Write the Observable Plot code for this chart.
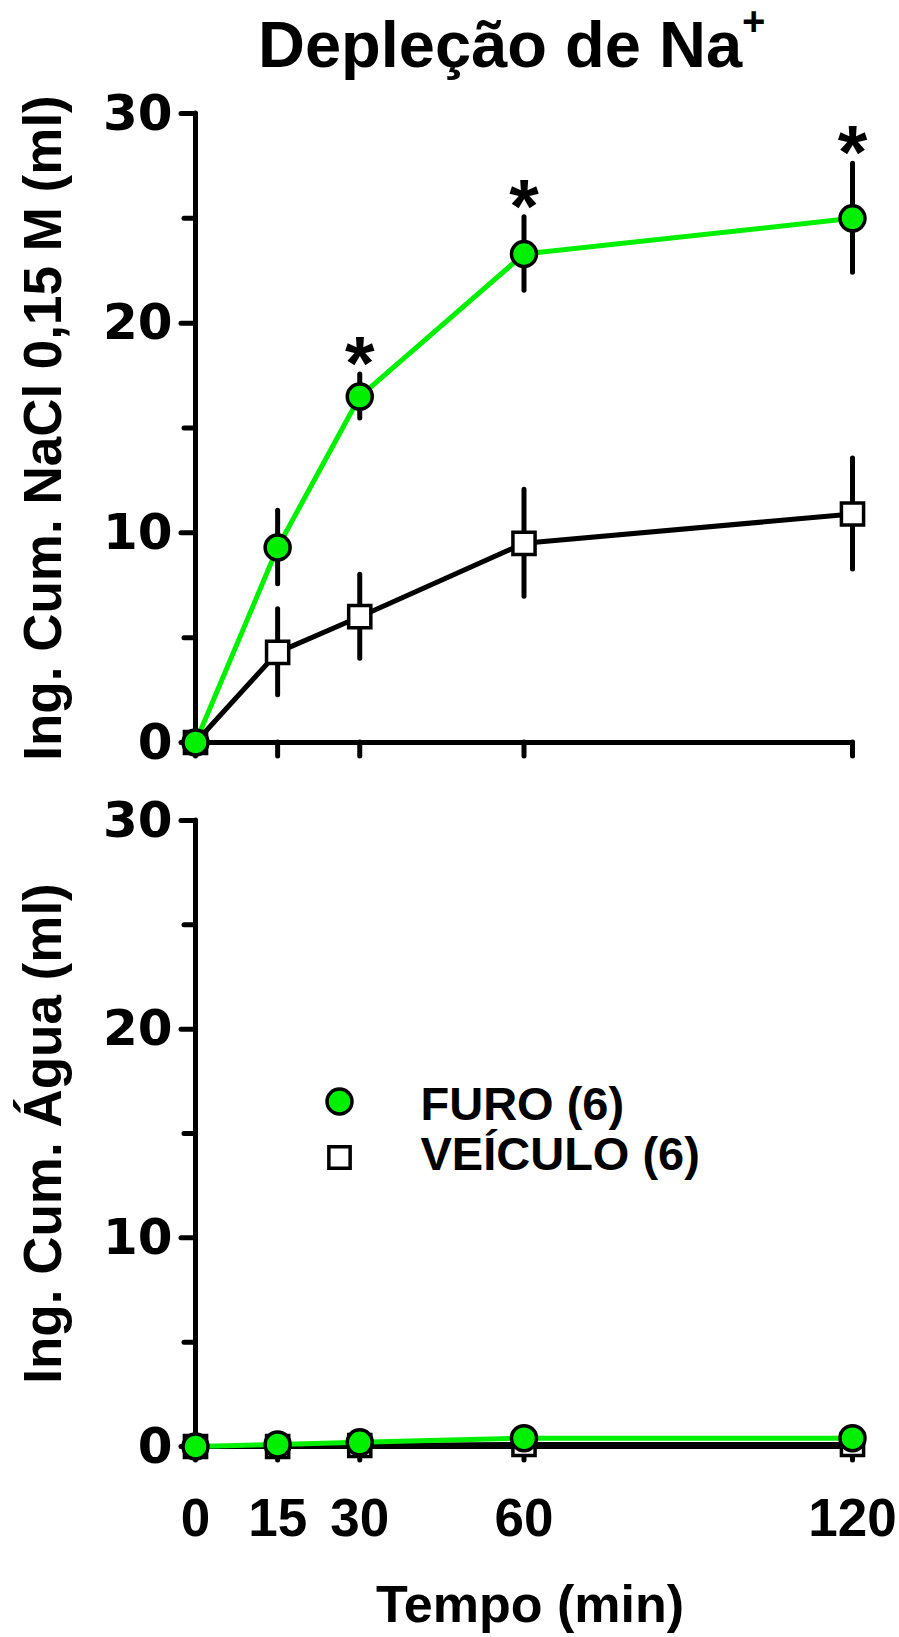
<!DOCTYPE html>
<html>
<head>
<meta charset="utf-8">
<script src="https://cdn.jsdelivr.net/npm/d3@7"></script>
<script src="https://cdn.jsdelivr.net/npm/@observablehq/plot@0.6"></script>
<style>
  html, body { margin: 0; padding: 0; background: #fff; }
  #wrap { position: relative; width: 899px; height: 1637px; overflow: hidden; }
  #title { position: absolute; left: 258px; top: 12px; font-family: "Liberation Sans", Arial, sans-serif;
           font-weight: bold; font-size: 65px; line-height: 65px; white-space: nowrap; color: #000; }
  #title .sup { font-size: 40px; position: relative; top: -32px; }
  .panel { position: absolute; left: 0; }
  .panel svg { overflow: visible; }
</style>
</head>
<body>
<div id="wrap">
  <div id="title"></div>
  <div id="p1" class="panel" style="top:0px"></div>
  <div id="p2" class="panel" style="top:780px"></div>
</div>
<script>
// ---- data ----
const times = [0, 15, 30, 60, 120];
const furoNaCl = [0, 9.3, 16.5, 23.3, 25.0];
const furoNaClErr = [0, 1.75, 1.05, 1.75, 2.6];
const veicNaCl = [0, 4.3, 6.0, 9.5, 10.9];
const veicNaClErr = [0, 2.05, 2.0, 2.55, 2.65];
const sigNaCl = [false, false, true, true, true];
const furoAgua = [0, 0.1, 0.2, 0.4, 0.4];
const furoAguaErr = [0, 0.15, 0.15, 0.25, 0.25];
const veicAgua = [0, 0, 0.05, 0.1, 0.1];
const veicAguaErr = [0, 0.1, 0.1, 0.15, 0.15];
const yMajorTicks = [0, 10, 20, 30];
const yMinorTicks = [5, 15, 25];
const xTicks = [0, 15, 30, 60, 120];
const seriesNames = ["FURO (6)", "VEÍCULO (6)"];
const titleText = "Depleção de Na";
const titleSup = "+";
const yTitleTop = "Ing. Cum. NaCl 0,15 M (ml)";
const yTitleBottom = "Ing. Cum. Água (ml)";
const xTitle = "Tempo (min)";

const GREEN = "#00f000";
const W = 899;

document.getElementById("title").innerHTML = titleText + '<span class="sup">' + titleSup + '</span>';

function rows(means, errs, sig) {
  return times.map((t, i) => ({t, mean: means[i], err: errs[i], sig: sig ? sig[i] : false}));
}

function panel({height, marginTop, marginBottom, furo, veic, yTitle, showXLabels, legend}) {
  const marginLeft = 195, marginRight = 47;
  const marks = [
    // axes lines
    Plot.ruleX([0], {y1: 0, y2: 30, stroke: "#000", strokeWidth: 5, strokeLinecap: "round"}),
    Plot.ruleY([0], {x1: 0, x2: 120, stroke: "#000", strokeWidth: 5, strokeLinecap: "round"}),
    Plot.axisY({ticks: yMajorTicks, tickSize: 14, tickPadding: 9, strokeWidth: 5, strokeLinecap: "round",
                fontSize: 50, fontFamily: "'DejaVu Sans', sans-serif", fontWeight: "bold", label: null}),
    Plot.axisY({ticks: yMinorTicks, tickSize: 11, tickPadding: 0, strokeWidth: 5, strokeLinecap: "round",
                tickFormat: () => "", label: null}),
    Plot.axisX({ticks: xTicks, tickSize: 14, tickPadding: 38, strokeWidth: 5, strokeLinecap: "round",
                fontSize: 53, fontFamily: "'Liberation Sans Narrow', 'Liberation Sans', sans-serif", fontWeight: "bold",
                tickFormat: showXLabels ? (d => String(d)) : (() => ""), label: null}),
    // y title
    Plot.text([yTitle], {text: d => d, frameAnchor: "left", dx: -151, rotate: -90, textAnchor: "middle", lineAnchor: "middle",
                         fontSize: 53, fontWeight: "bold", fill: "#000"}),
    // series lines
    Plot.line(veic, {x: "t", y: "mean", stroke: "#000", strokeWidth: 5}),
    Plot.line(furo, {x: "t", y: "mean", stroke: GREEN, strokeWidth: 5}),
    // error bars
    Plot.ruleX(veic.filter(d => d.err > 0), {x: "t", y1: d => d.mean - d.err, y2: d => d.mean + d.err, stroke: "#000", strokeWidth: 5, strokeLinecap: "round"}),
    Plot.ruleX(furo.filter(d => d.err > 0), {x: "t", y1: d => d.mean - d.err, y2: d => d.mean + d.err, stroke: "#000", strokeWidth: 5, strokeLinecap: "round"}),
    // markers
    Plot.dot(veic, {x: "t", y: "mean", symbol: "square", r: 12.5, fill: "#fff", stroke: "#000", strokeWidth: 3.5}),
    Plot.dot(furo, {x: "t", y: "mean", symbol: "circle", r: 12.5, fill: GREEN, stroke: "#000", strokeWidth: 3.5}),
    // significance asterisks
    Plot.text(furo.filter(d => d.sig), {x: "t", y: d => d.mean + d.err, text: () => "*", fontSize: 76,
                                         fontWeight: "bold", lineAnchor: "middle", dy: -10, fill: "#000"})
  ];
  if (showXLabels) {
    marks.push(Plot.text([xTitle], {text: d => d, frameAnchor: "bottom", dy: 139, lineAnchor: "top",
                                    fontSize: 52, fontWeight: "bold", fill: "#000", dx: 6}));
  }
  if (legend) {
    marks.push(
      Plot.dot([seriesNames[0]], {frameAnchor: "top-left", dx: 144, dy: 281, symbol: "circle", r: 12.5, fill: GREEN, stroke: "#000", strokeWidth: 3.5}),
      Plot.dot([seriesNames[1]], {frameAnchor: "top-left", dx: 144, dy: 337, symbol: "square", r: 12, fill: "#fff", stroke: "#000", strokeWidth: 3.5}),
      Plot.text([seriesNames[0]], {text: d => d, frameAnchor: "top-left", dx: 225, dy: 284, textAnchor: "start", lineAnchor: "middle", fontSize: 47, fontWeight: "bold", fill: "#000"}),
      Plot.text([seriesNames[1]], {text: d => d, frameAnchor: "top-left", dx: 225, dy: 334, textAnchor: "start", lineAnchor: "middle", fontSize: 47, fontWeight: "bold", fill: "#000"})
    );
  }
  return Plot.plot({
    width: W, height, marginTop, marginBottom, marginLeft, marginRight,
    x: {domain: [0, 120], label: null},
    y: {domain: [0, 30], label: null},
    style: {fontFamily: "'Liberation Sans', Arial, sans-serif", fontWeight: "bold", background: "transparent", color: "#000"},
    marks
  });
}

document.getElementById("p1").appendChild(panel({
  height: 780, marginTop: 113, marginBottom: 38,
  furo: rows(furoNaCl, furoNaClErr, sigNaCl), veic: rows(veicNaCl, veicNaClErr),
  yTitle: yTitleTop, showXLabels: false, legend: false
}));
document.getElementById("p2").appendChild(panel({
  height: 857, marginTop: 40, marginBottom: 191,
  furo: rows(furoAgua, furoAguaErr), veic: rows(veicAgua, veicAguaErr),
  yTitle: yTitleBottom, showXLabels: true, legend: true
}));
</script>
</body>
</html>
